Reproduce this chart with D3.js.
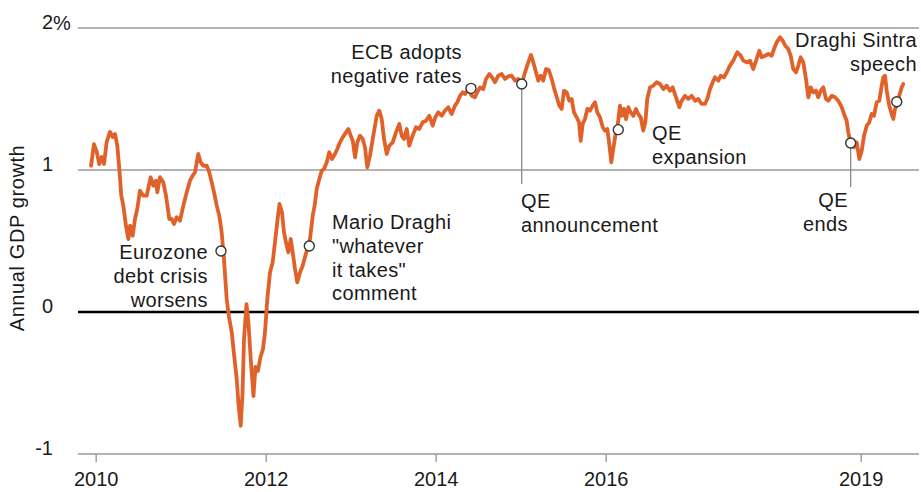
<!DOCTYPE html>
<html>
<head>
<meta charset="utf-8">
<script src="https://cdn.jsdelivr.net/npm/d3@7"></script>
<style>
  html, body { margin: 0; padding: 0; background: #fff; }
  svg { display: block; font-family: "Liberation Sans", Arial, Helvetica, sans-serif; }
</style>
</head>
<body>
<svg id="chart" width="921" height="492"></svg>
<script>
// ---- data (decimal year, annual GDP growth %) ----
const dates = [
  2009.945,2009.98,2010.012,2010.042,2010.071,2010.098,2010.129,2010.168,2010.2,2010.227,
  2010.254,2010.278,2010.301,2010.325,2010.356,2010.384,2010.404,2010.435,2010.462,2010.489,
  2010.521,2010.56,2010.6,2010.647,2010.678,2010.709,2010.725,2010.756,2010.795,2010.827,
  2010.866,2010.894,2010.921,2010.953,2010.992,2011.031,2011.071,2011.109,2011.141,2011.168,
  2011.207,2011.235,2011.266,2011.306,2011.336,2011.365,2011.392,2011.424,2011.454,2011.482,
  2011.509,2011.541,2011.568,2011.6,2011.627,2011.659,2011.68,2011.706,2011.727,2011.745,
  2011.774,2011.798,2011.824,2011.856,2011.88,2011.909,2011.939,2011.968,2011.992,2012.019,
  2012.051,2012.082,2012.109,2012.136,2012.162,2012.192,2012.215,2012.239,2012.266,2012.294,
  2012.318,2012.345,2012.372,2012.404,2012.435,2012.466,2012.489,2012.521,2012.553,2012.576,
  2012.6,2012.631,2012.659,2012.686,2012.718,2012.748,2012.78,2012.815,2012.842,2012.874,
  2012.906,2012.945,2012.972,2013.0,2013.024,2013.051,2013.078,2013.109,2013.141,2013.168,
  2013.195,2013.227,2013.266,2013.306,2013.336,2013.365,2013.392,2013.424,2013.454,2013.494,
  2013.533,2013.572,2013.6,2013.627,2013.659,2013.689,2013.729,2013.768,2013.807,2013.847,
  2013.886,2013.925,2013.965,2013.995,2014.031,2014.071,2014.109,2014.148,2014.188,2014.227,
  2014.254,2014.286,2014.318,2014.345,2014.384,2014.424,2014.462,2014.489,2014.521,2014.56,
  2014.592,2014.631,2014.662,2014.698,2014.736,2014.776,2014.815,2014.854,2014.894,2014.933,
  2014.972,2015.012,2015.051,2015.089,2015.121,2015.148,2015.18,2015.207,2015.235,2015.266,
  2015.298,2015.329,2015.365,2015.395,2015.431,2015.454,2015.482,2015.509,2015.541,2015.572,
  2015.6,2015.627,2015.659,2015.686,2015.706,2015.729,2015.756,2015.784,2015.815,2015.847,
  2015.874,2015.901,2015.933,2015.965,2015.992,2016.019,2016.042,2016.066,2016.089,2016.113,
  2016.136,2016.168,2016.192,2016.215,2016.239,2016.266,2016.294,2016.325,2016.356,2016.384,
  2016.412,2016.442,2016.466,2016.489,2016.521,2016.56,2016.6,2016.639,2016.678,2016.718,
  2016.756,2016.788,2016.827,2016.866,2016.894,2016.933,2016.972,2017.012,2017.051,2017.089,
  2017.129,2017.168,2017.195,2017.227,2017.259,2017.286,2017.325,2017.353,2017.392,2017.424,
  2017.462,2017.501,2017.548,2017.588,2017.619,2017.659,2017.698,2017.736,2017.776,2017.807,
  2017.835,2017.874,2017.913,2017.953,2017.98,2018.012,2018.051,2018.082,2018.113,2018.148,
  2018.176,2018.207,2018.239,2018.266,2018.294,2018.325,2018.356,2018.384,2018.412,2018.442,
  2018.474,2018.501,2018.529,2018.56,2018.592,2018.619,2018.659,2018.698,2018.736,2018.776,
  2018.804,2018.835,2018.854,2018.882,2018.921,2018.953,2018.984,2019.012,2019.039,2019.071,
  2019.101,2019.129,2019.156,2019.188,2019.219,2019.247,2019.266,2019.286,2019.306,2019.336,
  2019.365,2019.384,2019.404,2019.424,2019.454,2019.482,2019.501
];
const values = [
  1.030,1.183,1.127,1.042,1.092,1.042,1.197,1.268,1.232,1.254,
  1.171,1.007,0.819,0.749,0.608,0.514,0.608,0.537,0.655,0.725,
  0.854,0.819,0.819,0.949,0.889,0.925,0.843,0.949,0.913,0.819,
  0.655,0.655,0.620,0.667,0.643,0.749,0.843,0.925,0.960,0.984,
  1.113,1.054,1.030,1.030,0.984,0.913,0.843,0.749,0.678,0.561,
  0.373,0.092,-0.035,-0.141,-0.296,-0.472,-0.648,-0.801,-0.577,-0.190,
  0.056,-0.085,-0.331,-0.592,-0.387,-0.415,-0.317,-0.261,-0.141,0.092,
  0.280,0.350,0.491,0.632,0.761,0.702,0.561,0.491,0.420,0.514,
  0.420,0.303,0.209,0.280,0.326,0.396,0.444,0.514,0.678,0.749,
  0.866,0.937,0.995,1.007,1.054,1.125,1.077,1.113,1.148,1.195,
  1.230,1.265,1.289,1.242,1.206,1.089,1.195,1.242,1.218,1.160,
  1.019,1.101,1.242,1.382,1.418,1.359,1.218,1.113,1.171,1.195,
  1.265,1.324,1.242,1.218,1.289,1.171,1.242,1.301,1.289,1.336,
  1.347,1.382,1.312,1.371,1.406,1.382,1.418,1.442,1.394,1.453,
  1.477,1.523,1.547,1.535,1.570,1.523,1.512,1.547,1.582,1.570,
  1.641,1.676,1.653,1.618,1.664,1.676,1.641,1.660,1.664,1.629,
  1.641,1.606,1.688,1.758,1.810,1.758,1.688,1.629,1.664,1.629,
  1.711,1.706,1.641,1.570,1.500,1.453,1.430,1.558,1.547,1.488,
  1.500,1.406,1.371,1.336,1.206,1.324,1.359,1.430,1.418,1.453,
  1.477,1.406,1.371,1.301,1.277,1.289,1.183,1.054,1.148,1.242,
  1.289,1.453,1.382,1.430,1.359,1.442,1.406,1.382,1.430,1.394,
  1.371,1.277,1.336,1.500,1.582,1.594,1.618,1.606,1.570,1.594,
  1.558,1.582,1.512,1.442,1.488,1.523,1.500,1.523,1.488,1.500,
  1.465,1.465,1.500,1.570,1.618,1.653,1.629,1.664,1.653,1.688,
  1.735,1.770,1.829,1.805,1.770,1.758,1.770,1.711,1.782,1.840,
  1.794,1.805,1.817,1.805,1.852,1.899,1.935,1.911,1.875,1.852,
  1.805,1.711,1.688,1.735,1.794,1.758,1.641,1.512,1.582,1.547,
  1.558,1.512,1.558,1.582,1.500,1.488,1.523,1.512,1.488,1.442,
  1.394,1.347,1.265,1.190,1.160,1.195,1.077,1.136,1.242,1.312,
  1.336,1.394,1.382,1.477,1.488,1.594,1.653,1.664,1.558,1.453,
  1.394,1.359,1.430,1.453,1.523,1.582,1.606
];

// events
const eventLabels = [
  ["Eurozone", "debt crisis", "worsens"],
  ["Mario Draghi", "\"whatever", "it takes\"", "comment"],
  ["ECB adopts", "negative rates"],
  ["QE", "announcement"],
  ["QE", "expansion"],
  ["QE", "ends"],
  ["Draghi Sintra", "speech"]
];
const eventDates  = [2011.474, 2012.513, 2014.415, 2015.012, 2016.148, 2018.882, 2019.424];
const eventValues = [0.430, 0.465, 1.575, 1.606, 1.284, 1.190, 1.481];

const yTickValues = [2, 1, 0, -1];
const yTickLabels = ["2", "1", "0", "-1"];
const xTickValues = [2010, 2012, 2014, 2016, 2019];
const yAxisTitle = "Annual GDP growth";

// ---- layout ----
const svg = d3.select("#chart");
const x = d3.scaleLinear().domain([2010, 2019]).range([95.7, 860.7]);
const y = d3.scaleLinear().domain([-1, 2]).range([454, 28]);
const gridLeft = 78, gridRight = 919;
const FS = 20;
const textColor = "#1a1a1a";

// gridlines
svg.append("g").selectAll("line")
  .data(yTickValues)
  .join("line")
  .attr("x1", gridLeft).attr("x2", gridRight)
  .attr("y1", d => y(d)).attr("y2", d => y(d))
  .attr("stroke", d => d === 0 ? "#000" : "#9a9a9a")
  .attr("stroke-width", d => d === 0 ? 2.6 : 1.4);

// y tick labels
const yl = svg.append("g").attr("font-size", FS).attr("fill", textColor);
yl.selectAll("text")
  .data(yTickValues)
  .join("text")
  .attr("x", 53)
  .attr("y", d => y(d) + 1)
  .attr("text-anchor", "end")
  .text((d, i) => yTickLabels[i]);
yl.append("text")
  .attr("x", 53).attr("y", y(2) + 2)
  .attr("text-anchor", "start")
  .text("%");

// y axis title
svg.append("text")
  .attr("transform", `translate(24,${238}) rotate(-90)`)
  .attr("text-anchor", "middle")
  .attr("font-size", FS)
  .attr("fill", textColor)
  .attr("letter-spacing", 0.6)
  .text(yAxisTitle);

// x axis
const xAxis = d3.axisBottom(x)
  .tickValues(xTickValues)
  .tickFormat(d3.format("d"))
  .tickSize(8)
  .tickPadding(6);
const gx = svg.append("g")
  .attr("transform", `translate(0,${y(-1)})`)
  .call(xAxis);
gx.select(".domain").remove();
gx.selectAll(".tick line").attr("stroke", "#9a9a9a").attr("stroke-width", 1.4);
gx.selectAll(".tick text")
  .attr("font-size", FS)
  .attr("font-family", "Liberation Sans, Arial, sans-serif")
  .attr("fill", textColor)
  .attr("dy", "0.9em");

// line
const data = dates.map((d, i) => ({ t: d, v: values[i] }));
const line = d3.line().x(d => x(d.t)).y(d => y(d.v));
svg.append("path")
  .datum(data)
  .attr("d", line)
  .attr("fill", "none")
  .attr("stroke", "#E0622A")
  .attr("stroke-width", 3.8)
  .attr("stroke-linejoin", "round")
  .attr("stroke-linecap", "round");

// leader lines (QE announcement, QE ends)
const leaders = [ {i: 3, to: 184}, {i: 5, to: 187} ];
svg.append("g").selectAll("line")
  .data(leaders)
  .join("line")
  .attr("x1", d => x(eventDates[d.i])).attr("x2", d => x(eventDates[d.i]))
  .attr("y1", d => y(eventValues[d.i]) + 5).attr("y2", d => d.to)
  .attr("stroke", "#8a8a8a").attr("stroke-width", 1.3);

// markers
svg.append("g").selectAll("circle")
  .data(eventDates)
  .join("circle")
  .attr("cx", d => x(d))
  .attr("cy", (d, i) => y(eventValues[i]))
  .attr("r", 5)
  .attr("fill", "#fff")
  .attr("stroke", "#333")
  .attr("stroke-width", 1.4);

// annotation text
const labelPos = [
  {x: 208, y: 259, anchor: "end"},
  {x: 332, y: 229, anchor: "start"},
  {x: 462, y: 59, anchor: "end"},
  {x: 521, y: 208, anchor: "start"},
  {x: 652, y: 140, anchor: "start"},
  {x: 848, y: 207, anchor: "end"},
  {x: 917, y: 47, anchor: "end"}
];
const lh = 23.8;
const ann = svg.append("g").attr("font-size", FS).attr("fill", textColor);
eventLabels.forEach((lines, i) => {
  const p = labelPos[i];
  const t = ann.append("text")
    .attr("text-anchor", p.anchor)
    .attr("letter-spacing", 0.4);
  lines.forEach((s, k) => {
    t.append("tspan").attr("x", p.x).attr("y", p.y + k * lh).text(s);
  });
});
</script>
</body>
</html>
